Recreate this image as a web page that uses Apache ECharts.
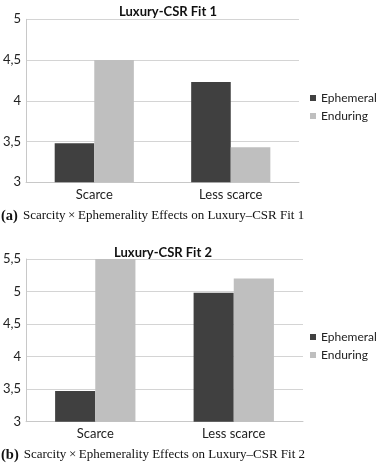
<!DOCTYPE html>
<html>
<head>
<meta charset="utf-8">
<script src="https://cdn.jsdelivr.net/npm/echarts@6/dist/echarts.min.js"></script>
<style>html,body{margin:0;padding:0;background:#fff;}#c{width:379px;height:463px;}</style>
</head>
<body>
<div id="c"></div>
<script>
var categories = ['Scarce', 'Less scarce'];
var seriesNames = ['Ephemeral', 'Enduring'];
var fit1Ephemeral = [3.48, 4.23];
var fit1Enduring = [4.50, 3.43];
var fit2Ephemeral = [3.47, 4.98];
var fit2Enduring = [5.50, 5.20];
var chartTitles = ['Luxury-CSR Fit 1', 'Luxury-CSR Fit 2'];
var captionLabels = ['(a)', '(b)'];
var captionTexts = ['Scarcity\u2009\u00d7\u2009Ephemerality Effects on Luxury\u2013CSR Fit 1',
                    'Scarcity\u2009\u00d7\u2009Ephemerality Effects on Luxury\u2013CSR Fit 2'];

var dark = '#404040', light = '#bfbfbf';
var fontSans = 'Lato';
var chart = echarts.init(document.getElementById('c'), null, {renderer: 'canvas'});

function yAxis(gi, max) {
  return {
    type: 'value', gridIndex: gi, min: 3, max: max, interval: 0.5,
    axisLine: {show: true, lineStyle: {color: '#c8c8c8', width: 1}},
    axisTick: {show: false},
    splitLine: {show: true, lineStyle: {color: '#d4d4d4', width: 1}},
    axisLabel: {color: '#222', fontFamily: fontSans, fontSize: 13, margin: 5,
      formatter: function (v) { return String(v).replace('.', ','); }}
  };
}
function xAxis(gi) {
  return {
    type: 'category', gridIndex: gi, data: categories,
    axisLine: {show: true, lineStyle: {color: '#c8c8c8', width: 1}},
    axisTick: {show: false},
    axisLabel: {color: '#222', fontFamily: fontSans, fontSize: 13, margin: 6}
  };
}
function bar(name, data, gi, color) {
  return {
    type: 'bar', name: name, data: data, xAxisIndex: gi, yAxisIndex: gi,
    barGap: '0%', barCategoryGap: '42%',
    itemStyle: {color: color}, emphasis: {disabled: true}, silent: true
  };
}
function legend(top) {
  return {
    data: seriesNames, orient: 'vertical', left: 310, top: top, padding: 0,
    itemWidth: 6, itemHeight: 6, itemGap: 6, icon: 'rect',
    textStyle: {color: '#222', fontFamily: fontSans, fontSize: 12, width: 70, overflow: 'none'},
    selectedMode: false
  };
}
function caption(i, top) {
  return {
    text: '{b|' + captionLabels[i] + '} {t|' + captionTexts[i] + '}',
    left: -4, top: top,
    textStyle: {fontWeight: 'normal', rich: {
      b: {fontFamily: 'Liberation Serif', fontWeight: 'bold', fontSize: 14.5, color: '#111'},
      t: {fontFamily: 'Liberation Serif', fontWeight: 'normal', fontSize: 13, color: '#111'}
    }}
  };
}

chart.setOption({
  animation: false,
  title: [
    {text: chartTitles[0], left: 163, top: 0, textAlign: 'center',
     textStyle: {fontFamily: fontSans, fontWeight: 'bold', fontSize: 13, color: '#111'}},
    {text: chartTitles[1], left: 158, top: 241, textAlign: 'center',
     textStyle: {fontFamily: fontSans, fontWeight: 'bold', fontSize: 13, color: '#111'}},
    caption(0, 202),
    caption(1, 441)
  ],
  legend: [legend(92), legend(331)],
  grid: [
    {left: 22, top: 19.3, width: 277, height: 163},
    {left: 25, top: 259, width: 278, height: 162.7}
  ],
  xAxis: [xAxis(0), xAxis(1)],
  yAxis: [yAxis(0, 5), yAxis(1, 5.5)],
  series: [
    bar(seriesNames[0], fit1Ephemeral, 0, dark),
    bar(seriesNames[1], fit1Enduring, 0, light),
    bar(seriesNames[0], fit2Ephemeral, 1, dark),
    bar(seriesNames[1], fit2Enduring, 1, light)
  ]
});
</script>
</body>
</html>
